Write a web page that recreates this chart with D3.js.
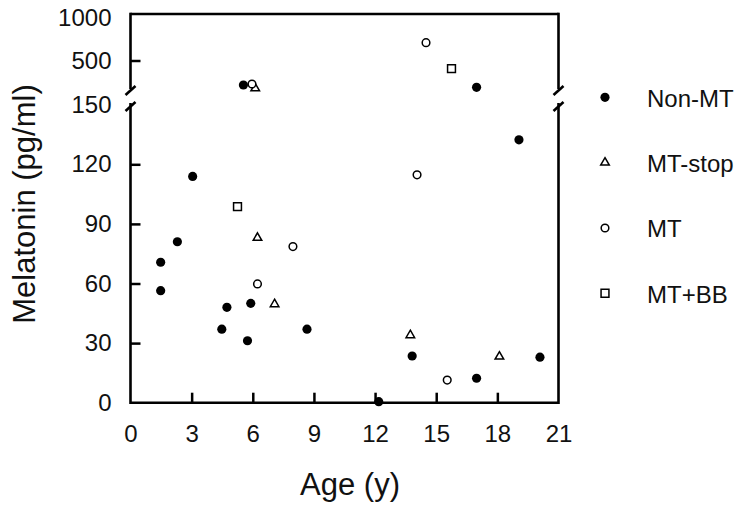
<!DOCTYPE html>
<html>
<head>
<meta charset="utf-8">
<script src="https://cdn.jsdelivr.net/npm/d3@7"></script>
<style>
  body { margin: 0; background: #fff; }
  svg { display: block; font-family: "Liberation Sans", Arial, sans-serif; }
</style>
</head>
<body>
<div id="chart"></div>
<script>
// series; values above 150 sit in the upper (broken) panel
const categories = ["Non-MT", "MT-stop", "MT", "MT+BB"];

const nonMtAge   = [1.48, 1.48, 2.3, 3.05, 4.48, 4.73, 5.74, 5.9, 8.66, 12.18, 13.82, 16.98, 19.06, 20.09, 5.54, 16.98];
const nonMtLevel = [70.7, 56.4, 81, 113.9, 37, 48, 31.2, 50, 37, 0.5, 23.5, 12.3, 132.3, 22.9, 215, 188];

const mtStopAge   = [6.23, 7.07, 13.73, 18.1, 6.12];
const mtStopLevel = [83, 49.6, 34, 23.2, 177];

const mtAge   = [6.23, 7.97, 14.06, 15.54, 5.96, 14.5];
const mtLevel = [59.8, 78.6, 114.7, 11.4, 227, 707];

const mtBbAge   = [5.25, 15.75];
const mtBbLevel = [98.7, 405];

const xTicks = [0, 3, 6, 9, 12, 15, 18, 21];
const yLowTicks = [0, 30, 60, 90, 120, 150];
const yHighTicks = [500, 1000];

const width = 745, height = 511;
const plotLeft = 130.5, plotRight = 558.5, plotTop = 14, plotBottom = 402.7;
const breakHi = 89, breakLo = 103;
const font = "24px";

const x = d3.scaleLinear().domain([0, 21]).range([plotLeft, plotRight]);
const yLow = d3.scaleLinear().domain([0, 150]).range([plotBottom, 104.7]);
const yHigh = d3.scaleLinear().domain([500, 1000]).range([60.5, 17.5]);
const yOf = (v) => (v > 150 ? yHigh(v) : yLow(v));

const styles = {
  "Non-MT": { type: d3.symbolCircle, size: 66, fill: "#000", stroke: "none" },
  "MT-stop": { type: d3.symbolTriangle, size: 32, fill: "#fff", stroke: "#000" },
  "MT": { type: d3.symbolCircle, size: 46, fill: "#fff", stroke: "#000" },
  "MT+BB": { type: d3.symbolSquare, size: 62, fill: "#fff", stroke: "#000" }
};

const series = [
  { name: "Non-MT", age: nonMtAge, level: nonMtLevel },
  { name: "MT-stop", age: mtStopAge, level: mtStopLevel },
  { name: "MT", age: mtAge, level: mtLevel },
  { name: "MT+BB", age: mtBbAge, level: mtBbLevel }
];

const svg = d3.select("#chart").append("svg")
  .attr("width", width)
  .attr("height", height);

function styleAxis(g) {
  g.select(".domain").remove();
  g.selectAll(".tick line").attr("stroke-width", 2.5);
  g.selectAll("text")
    .attr("font-size", font)
    .attr("font-family", "Liberation Sans, Arial")
    .attr("fill", "#111");
}

// x axis, ticks pointing inward
const xAxis = svg.append("g")
  .attr("transform", `translate(0,${plotBottom})`)
  .call(d3.axisBottom(x).tickValues(xTicks).tickSize(-10).tickPadding(22))
  .call(styleAxis);
xAxis.selectAll(".tick line").filter((d) => d === 0 || d === 21).remove();

// lower y axis
const yLowAxis = svg.append("g")
  .attr("transform", `translate(${plotLeft},0)`)
  .call(d3.axisLeft(yLow).tickValues(yLowTicks).tickSize(-10).tickPadding(19))
  .call(styleAxis);
yLowAxis.selectAll(".tick line").filter((d) => d === 0 || d === 150).remove();

// upper y axis
const yHighAxis = svg.append("g")
  .attr("transform", `translate(${plotLeft},0)`)
  .call(d3.axisLeft(yHigh).tickValues(yHighTicks).tickFormat(d3.format("d")).tickSize(-10).tickPadding(19))
  .call(styleAxis);
yHighAxis.selectAll(".tick line").filter((d) => d === 1000).remove();

// frame with the break marks
const frame = svg.append("g").attr("stroke", "#000").attr("stroke-width", 2.6).attr("fill", "none");
[plotLeft, plotRight].forEach((fx) => {
  frame.append("line").attr("x1", fx).attr("x2", fx).attr("y1", plotTop - 1.3).attr("y2", breakHi);
  frame.append("line").attr("x1", fx).attr("x2", fx).attr("y1", breakLo).attr("y2", plotBottom + 1.3);
  frame.append("line").attr("x1", fx - 5).attr("x2", fx + 5).attr("y1", breakHi + 6).attr("y2", breakHi - 3);
  frame.append("line").attr("x1", fx - 5).attr("x2", fx + 5).attr("y1", breakLo + 8).attr("y2", breakLo - 1);
});
frame.append("line").attr("x1", plotLeft).attr("x2", plotRight).attr("y1", plotTop).attr("y2", plotTop);
frame.append("line").attr("x1", plotLeft).attr("x2", plotRight).attr("y1", plotBottom).attr("y2", plotBottom);

// points
series.forEach((s) => {
  const st = styles[s.name];
  svg.append("g")
    .selectAll("path")
    .data(s.age.map((a, i) => ({ age: a, level: s.level[i] })))
    .join("path")
    .attr("d", d3.symbol().type(st.type).size(st.size))
    .attr("transform", (d) => `translate(${x(d.age)},${yOf(d.level)})`)
    .attr("fill", st.fill)
    .attr("stroke", st.stroke)
    .attr("stroke-width", 1.5);
});

// legend
const legendY = d3.scalePoint().domain(categories).range([97.3, 293.3]);
const legend = svg.append("g");
categories.forEach((c) => {
  const st = styles[c];
  legend.append("path")
    .attr("d", d3.symbol().type(st.type).size(st.size))
    .attr("transform", `translate(605,${legendY(c)})`)
    .attr("fill", st.fill)
    .attr("stroke", st.stroke)
    .attr("stroke-width", 1.5);
  legend.append("text")
    .attr("x", 647)
    .attr("y", legendY(c) + 9.5)
    .attr("font-size", font)
    .attr("fill", "#111")
    .text(c);
});

// axis titles
svg.append("text")
  .attr("x", 350)
  .attr("y", 495)
  .attr("text-anchor", "middle")
  .attr("font-size", "31px")
  .attr("fill", "#111")
  .text("Age (y)");

svg.append("text")
  .attr("transform", "translate(35,204) rotate(-90)")
  .attr("text-anchor", "middle")
  .attr("font-size", "31px")
  .attr("fill", "#111")
  .text("Melatonin (pg/ml)");
</script>
</body>
</html>
